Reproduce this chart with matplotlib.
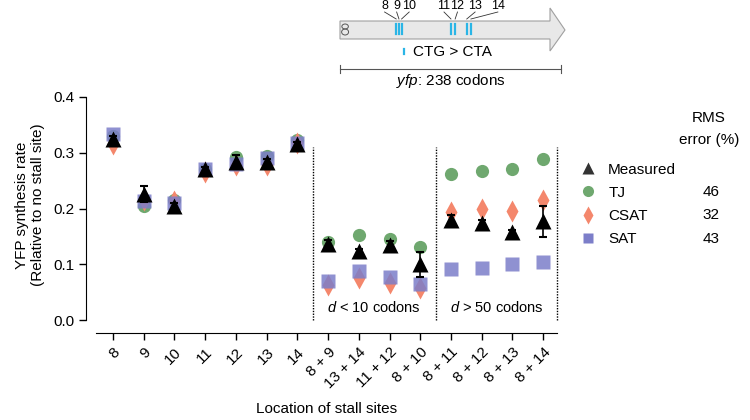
import matplotlib
matplotlib.use("Agg")
import matplotlib.pyplot as plt
from matplotlib.lines import Line2D
from matplotlib.patches import Polygon, Ellipse

plt.rcParams["font.family"] = ["Liberation Sans", "DejaVu Sans"]
plt.rcParams["font.size"] = 10
plt.rcParams["mathtext.fontset"] = "custom"
plt.rcParams["mathtext.it"] = "Liberation Sans:italic"
plt.rcParams["mathtext.rm"] = "Liberation Sans"

# stall-site combinations on the x axis
sites = ["8", "9", "10", "11", "12", "13", "14",
         "8 + 9", "13 + 14", "11 + 12", "8 + 10",
         "8 + 11", "8 + 12", "8 + 13", "8 + 14"]

measured = [0.325, 0.226, 0.205, 0.270, 0.283, 0.283, 0.315,
            0.136, 0.123, 0.134, 0.100,
            0.179, 0.174, 0.157, 0.177]
measured_err = [0.005, 0.015, 0.005, 0.005, 0.013, 0.006, 0.005,
                0.008, 0.005, 0.008, 0.022,
                0.010, 0.005, 0.004, 0.028]
tj = [0.330, 0.205, 0.215, 0.270, 0.292, 0.295, 0.322,
      0.140, 0.152, 0.145, 0.131,
      0.262, 0.268, 0.271, 0.288]
csat = [0.315, 0.215, 0.213, 0.265, 0.278, 0.278, 0.318,
        0.063, 0.075, 0.066, 0.058,
        0.194, 0.200, 0.196, 0.216]
sat = [0.333, 0.213, 0.210, 0.270, 0.280, 0.290, 0.318,
       0.070, 0.088, 0.078, 0.064,
       0.092, 0.094, 0.101, 0.104]

rms = {"TJ": 46, "CSAT": 32, "SAT": 43}

# gene diagram: stall site codon positions along yfp
site_labels = ["8", "9", "10", "11", "12", "13", "14"]
site_codons = [60.5, 63.5, 66.3, 119.5, 124.0, 136.5, 141.0]
label_codons = [48, 61, 74.5, 112, 126.5, 145.5, 170]
gene_len = 238

c_tj = "#6fa86f"
c_csat = "#f4876c"
c_sat = "#7c7ec9"
c_cyan = "#2ab5e6"

fig = plt.figure(figsize=(7.5, 4.2), dpi=100)
ax = fig.add_axes([96 / 750, 100 / 420, 461 / 750, 223 / 420])

x = list(range(len(sites)))
ax.plot(x, tj, "o", color=c_tj, ms=9.5, mec="none", zorder=3, clip_on=False)
ax.plot(x, csat, "d", color=c_csat, ms=11, mec="none", zorder=4, clip_on=False)
ax.plot(x, sat, "s", color=c_sat, ms=9.5, mec="none", alpha=0.85, zorder=5, clip_on=False)
ax.errorbar(x, measured, yerr=measured_err, fmt="^", color="black", ms=11.5,
            mec="none", ecolor="black", elinewidth=1.2, capsize=3, capthick=1.5,
            zorder=6, clip_on=False)

for xv in [6.5, 10.5, 14.45]:
    ax.plot([xv, xv], [0, 0.31], ls=(0, (1, 1)), color="black", lw=1, zorder=2,
            clip_on=False)

ax.text(8.5, 0.022, r"$d$ < 10 codons", ha="center", va="center", fontsize=10.5)
ax.text(12.5, 0.022, r"$d$ > 50 codons", ha="center", va="center", fontsize=10.5)

ax.set_xlim(-0.553, 14.45)
ax.set_ylim(0, 0.4)
ax.spines["top"].set_visible(False)
ax.spines["right"].set_visible(False)
ax.spines["left"].set_position(("outward", 7))
ax.spines["bottom"].set_position(("outward", 9))
ax.tick_params(axis="both", direction="out", length=5, width=1)
ax.tick_params(axis="x", pad=4)
ax.set_yticks([0.0, 0.1, 0.2, 0.3, 0.4])
ax.set_yticklabels(["0.0", "0.1", "0.2", "0.3", "0.4"], fontsize=11)
ax.set_xticks(x)
ax.set_xticklabels(sites, fontsize=11)
plt.setp(ax.get_xticklabels(), rotation=45, ha="right", rotation_mode="anchor")
ax.set_xlabel("Location of stall sites", fontsize=11, labelpad=8)
fig.text(30 / 750, 1 - 205 / 420, "YFP synthesis rate\n(Relative to no stall site)",
         rotation=90, ha="center", va="center", fontsize=11, linespacing=1.1)

# legend
handles = [Line2D([], [], ls="none", marker="^", color="#333333", ms=9, mec="none"),
           Line2D([], [], ls="none", marker="o", color=c_tj, ms=8, mec="none"),
           Line2D([], [], ls="none", marker="d", color=c_csat, ms=9, mec="none"),
           Line2D([], [], ls="none", marker="s", color=c_sat, ms=7, mec="none")]
names = ["Measured", "TJ", "CSAT", "SAT"]
fig.legend(handles, names, loc="upper left", bbox_to_anchor=(573 / 750, 1 - 155 / 420),
           frameon=False, handlelength=1.0, handletextpad=0.8, labelspacing=0.6,
           borderpad=0, fontsize=11)
fig.text(709 / 750, 1 - 118 / 420, "RMS", ha="center", va="center", fontsize=11)
fig.text(709 / 750, 1 - 140 / 420, "error (%)", ha="center", va="center", fontsize=11)
for i, name in enumerate(["TJ", "CSAT", "SAT"]):
    fig.text(711 / 750, 1 - (192 + 23.3 * i) / 420, str(rms[name]),
             ha="center", va="center", fontsize=11)

# gene diagram (x in codons, y in pixels)
px_per_codon = (561 - 340) / gene_len
dg = fig.add_axes([0, 0, 1, 1], facecolor="none")
dg.set_xlim(-340 / px_per_codon, (750 - 340) / px_per_codon)
dg.set_ylim(420, 0)
dg.axis("off")

head = gene_len - 11 / px_per_codon
tip = gene_len + 4 / px_per_codon
arrow = Polygon([(0, 21), (head, 21), (head, 8), (tip, 30), (head, 51), (head, 39), (0, 39)],
                closed=True, facecolor="#e8e8e8", edgecolor="#a0a0a0", lw=0.8)
dg.add_patch(arrow)
dg.add_patch(Ellipse((5.5, 26.5), 7, 5, facecolor="none", edgecolor="#555555", lw=0.7))
dg.add_patch(Ellipse((5.5, 32), 7.5, 6, facecolor="none", edgecolor="#555555", lw=0.7))

for c, lc, lab in zip(site_codons, label_codons, site_labels):
    dg.plot([c, c], [24, 34], color=c_cyan, lw=1.6)
    dg.plot([lc, c], [12, 19], color="#333333", lw=0.6)
    dg.text(lc, 6, lab, ha="center", va="center", fontsize=9)

dg.plot([69, 69], [49, 54], color=c_cyan, lw=1.6)
dg.text(79, 52, "CTG > CTA", ha="left", va="center", fontsize=11)

dg.plot([0, gene_len], [69, 69], color="#555555", lw=0.8)
dg.plot([0, 0], [65, 73], color="#555555", lw=0.8)
dg.plot([gene_len, gene_len], [65, 73], color="#555555", lw=0.8)
dg.text(gene_len / 2, 81, r"$yfp$: 238 codons", ha="center", va="center", fontsize=11)

fig.savefig("out.png", dpi=100)
